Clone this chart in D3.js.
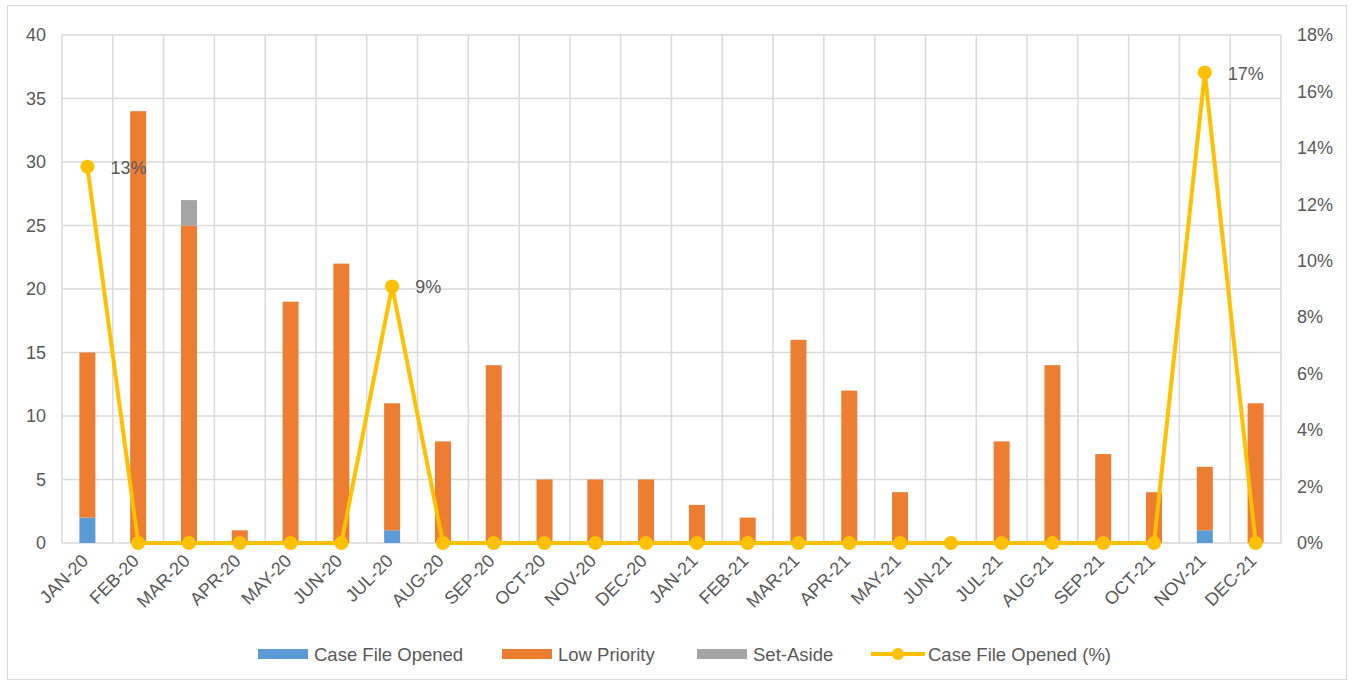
<!DOCTYPE html>
<html>
<head>
<meta charset="utf-8">
<script src="https://cdn.jsdelivr.net/npm/d3@7"></script>
<style>
  html, body { margin: 0; padding: 0; background: #fff; }
  svg text { font-family: "Liberation Sans", Arial, sans-serif; fill: #595959; }
</style>
</head>
<body>
<svg id="chart" width="1354" height="685"></svg>
<script>
// Monthly case intake, Jan 2020 – Dec 2021
const months = ["JAN-20","FEB-20","MAR-20","APR-20","MAY-20","JUN-20","JUL-20","AUG-20","SEP-20","OCT-20","NOV-20","DEC-20",
                "JAN-21","FEB-21","MAR-21","APR-21","MAY-21","JUN-21","JUL-21","AUG-21","SEP-21","OCT-21","NOV-21","DEC-21"];
const caseFileOpened = [2,0,0,0,0,0,1,0,0,0,0,0,0,0,0,0,0,0,0,0,0,0,1,0];
const lowPriority    = [13,34,25,1,19,22,10,8,14,5,5,5,3,2,16,12,4,0,8,14,7,4,5,11];
const setAside       = [0,0,2,0,0,0,0,0,0,0,0,0,0,0,0,0,0,0,0,0,0,0,0,0];
// Share of cases that led to an opened case file (%)
const openedPct      = [13.33,0,0,0,0,0,9.09,0,0,0,0,0,0,0,0,0,0,0,0,0,0,0,16.67,0];
const pctLabels      = ["13%",null,null,null,null,null,"9%",null,null,null,null,null,
                        null,null,null,null,null,null,null,null,null,null,"17%",null];
const leftTicks  = [0,5,10,15,20,25,30,35,40];
const rightTicks = [0,2,4,6,8,10,12,14,16,18];

const seriesNames  = ["Case File Opened","Low Priority","Set-Aside"];
const seriesColors = ["#5B9BD5","#ED7D31","#A5A5A5"];
const lineColor = "#FFC000";
const gridColor = "#D9D9D9";
const tickFont = 18;
const legendFont = 18.5;

const svg = d3.select("#chart");
const m = {left: 62, right: 1281, top: 35, bottom: 543};

// outer frame
svg.append("rect").attr("x", 7.5).attr("y", 5.5).attr("width", 1339).attr("height", 674)
  .attr("fill", "none").attr("stroke", gridColor).attr("stroke-width", 1);

const x = d3.scaleBand().domain(months).range([m.left, m.right]).paddingInner(0).paddingOuter(0);
const y = d3.scaleLinear().domain([0, 40]).range([m.bottom, m.top]);
const y2 = d3.scaleLinear().domain([0, 18]).range([m.bottom, m.top]);

// horizontal gridlines
svg.append("g").selectAll("line").data(leftTicks).join("line")
  .attr("x1", m.left).attr("x2", m.right)
  .attr("y1", d => y(d)).attr("y2", d => y(d))
  .attr("stroke", gridColor).attr("stroke-width", 1.5);

// vertical gridlines at band edges
const edges = months.map(d => x(d)).concat([m.right]);
svg.append("g").selectAll("line").data(edges).join("line")
  .attr("x1", d => d).attr("x2", d => d)
  .attr("y1", m.top).attr("y2", m.bottom)
  .attr("stroke", gridColor).attr("stroke-width", 1.5);

// left axis labels
const leftAxis = d3.axisLeft(y).tickValues(leftTicks).tickSize(0).tickPadding(16);
const gl = svg.append("g").attr("transform", `translate(${m.left},0)`).call(leftAxis);
gl.select(".domain").remove();
gl.selectAll("text").attr("font-size", tickFont).attr("fill", "#595959");

// right axis labels
const rightAxis = d3.axisRight(y2).tickValues(rightTicks).tickSize(0).tickPadding(16).tickFormat(d => d + "%");
const gr = svg.append("g").attr("transform", `translate(${m.right},0)`).call(rightAxis);
gr.select(".domain").remove();
gr.selectAll("text").attr("font-size", tickFont).attr("fill", "#595959");

// bottom axis, rotated month labels
const bottomAxis = d3.axisBottom(x).tickSize(0).tickPadding(0);
const gb = svg.append("g").attr("transform", `translate(0,${m.bottom})`).call(bottomAxis);
gb.select(".domain").remove();
gb.selectAll("text")
  .attr("font-size", tickFont).attr("fill", "#595959")
  .attr("text-anchor", "end")
  .attr("dy", 0)
  .attr("transform", "translate(2,19) rotate(-45)");

// stacked bars
const rows = months.map((mo, i) => ({month: mo, s0: caseFileOpened[i], s1: lowPriority[i], s2: setAside[i]}));
const stack = d3.stack().keys(["s0","s1","s2"])(rows);
const barW = 16;
svg.append("g").selectAll("g").data(stack).join("g")
  .attr("fill", (d, i) => seriesColors[i])
  .selectAll("rect").data(d => d).join("rect")
  .attr("x", d => x(d.data.month) + x.bandwidth() / 2 - barW / 2)
  .attr("width", barW)
  .attr("y", d => y(d[1]))
  .attr("height", d => y(d[0]) - y(d[1]));

// percentage line
const cx = d => x(d) + x.bandwidth() / 2;
const line = d3.line().x((d, i) => cx(months[i])).y(d => y2(d));
svg.append("path").datum(openedPct)
  .attr("d", line).attr("fill", "none")
  .attr("stroke", lineColor).attr("stroke-width", 4).attr("stroke-linejoin", "round");
svg.append("g").selectAll("circle").data(openedPct).join("circle")
  .attr("cx", (d, i) => cx(months[i])).attr("cy", d => y2(d))
  .attr("r", 7).attr("fill", lineColor);

// value labels
svg.append("g").selectAll("text").data(openedPct.map((v, i) => ({v, i, t: pctLabels[i]})).filter(d => d.t))
  .join("text")
  .attr("x", d => cx(months[d.i]) + 23).attr("y", d => y2(d.v) + 7)
  .attr("font-size", tickFont).attr("fill", "#404040")
  .text(d => d.t);

// legend
const legendY = 654;
const legendItems = [
  {name: seriesNames[0], color: seriesColors[0], x: 258, type: "bar"},
  {name: seriesNames[1], color: seriesColors[1], x: 502, type: "bar"},
  {name: seriesNames[2], color: seriesColors[2], x: 697, type: "bar"},
  {name: "Case File Opened (%)", color: lineColor, x: 871, type: "line"}
];
const lg = svg.append("g");
legendItems.forEach(it => {
  if (it.type === "bar") {
    lg.append("rect").attr("x", it.x).attr("y", legendY - 5).attr("width", 50).attr("height", 10).attr("fill", it.color);
    lg.append("text").attr("x", it.x + 56).attr("y", legendY + 6.5).attr("font-size", legendFont).text(it.name);
  } else {
    lg.append("line").attr("x1", it.x).attr("x2", it.x + 54).attr("y1", legendY).attr("y2", legendY)
      .attr("stroke", it.color).attr("stroke-width", 4);
    lg.append("circle").attr("cx", it.x + 27).attr("cy", legendY).attr("r", 6).attr("fill", it.color);
    lg.append("text").attr("x", it.x + 57).attr("y", legendY + 6.5).attr("font-size", legendFont).text(it.name);
  }
});
</script>
</body>
</html>
